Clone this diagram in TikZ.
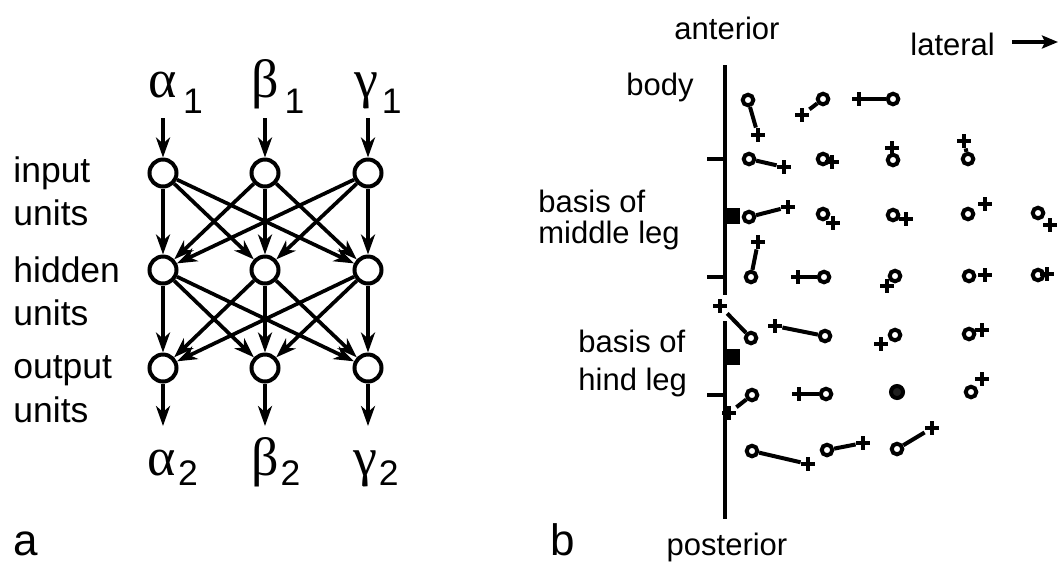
\documentclass[tikz,border=0pt]{standalone}
\usepackage{fontspec}
\setmainfont{Liberation Sans}
\newfontfamily\greekfont{Liberation Serif}
\usetikzlibrary{arrows.meta}

\newcommand{\gk}[1]{{\greekfont\fontsize{27pt}{31pt}\selectfont #1}}

\tikzset{
  neuron/.style={circle, draw, line width=2pt, minimum size=13.5pt, inner sep=0pt},
  conn/.style={line width=1.85pt, -{Stealth[length=10pt,width=7pt,inset=3pt]}},
  lbl/.style={font=\fontsize{17.75pt}{21pt}\selectfont, inner sep=0pt},
  small/.style={font=\fontsize{15.5pt}{18.5pt}\selectfont, inner sep=0pt},
  panel/.style={font=\fontsize{22pt}{26pt}\selectfont, inner sep=0pt},
  spot/.style={circle, draw, line width=2pt, minimum size=5.3pt, inner sep=0pt},
  plusmark/.style={minimum size=7pt, inner sep=0pt,
    path picture={\draw[line width=2.4pt] (path picture bounding box.north) -- (path picture bounding box.south)
      (path picture bounding box.west) -- (path picture bounding box.east);}},
  link/.style={line width=2pt},
  midline/.style={line width=1.9pt},
}

\begin{document}
\begin{tikzpicture}[x=0.5pt,y=-0.5pt]
  \useasboundingbox (0,0) rectangle (1058,564);

  % panel a: network
  \node[lbl, anchor=base] (la1) at (163,97) {\gk{α}\rlap{\hspace{3pt}\raisebox{-8pt}{1}}};
  \node[lbl, anchor=base] (lb1) at (265,97) {\gk{β}\rlap{\hspace{3pt}\raisebox{-8pt}{1}}};
  \node[lbl, anchor=base] (lc1) at (366,97) {\gk{γ}\rlap{\hspace{2pt}\raisebox{-8pt}{1}}};
  \node[lbl, anchor=base] (la2) at (162,475) {\gk{α}\rlap{\hspace{1pt}\raisebox{-5pt}{2}}};
  \node[lbl, anchor=base] (lb2) at (265,475) {\gk{β}\rlap{\hspace{1pt}\raisebox{-5pt}{2}}};
  \node[lbl, anchor=base] (lc2) at (365,475) {\gk{γ}\rlap{\hspace{1pt}\raisebox{-5pt}{2}}};

  \node[neuron] (i1) at (163,173) {};
  \node[neuron] (i2) at (265,173) {};
  \node[neuron] (i3) at (368,173) {};
  \node[neuron] (h1) at (163,270) {};
  \node[neuron] (h2) at (265,270) {};
  \node[neuron] (h3) at (368,270) {};
  \node[neuron] (o1) at (163,368) {};
  \node[neuron] (o2) at (265,368) {};
  \node[neuron] (o3) at (368,368) {};

  \node[lbl, anchor=base west] (t1) at (13,182) {input};
  \node[lbl, anchor=base west] (t2) at (13,225) {units};
  \node[lbl, anchor=base west] (t3) at (13,282) {hidden};
  \node[lbl, anchor=base west] (t4) at (13,325) {units};
  \node[lbl, anchor=base west] (t5) at (13,378) {output};
  \node[lbl, anchor=base west] (t6) at (13,422) {units};

  \coordinate (ia) at (163,118);
  \coordinate (ib) at (265,118);
  \coordinate (ic) at (368,118);
  \coordinate (oa) at (163,426);
  \coordinate (ob) at (265,426);
  \coordinate (oc) at (368,426);
  \draw[conn] (ia) -- (i1);
  \draw[conn] (ib) -- (i2);
  \draw[conn] (ic) -- (i3);
  \draw[conn] (i1) -- (h1); \draw[conn] (i1) -- (h2); \draw[conn] (i1) -- (h3);
  \draw[conn] (i2) -- (h1); \draw[conn] (i2) -- (h2); \draw[conn] (i2) -- (h3);
  \draw[conn] (i3) -- (h1); \draw[conn] (i3) -- (h2); \draw[conn] (i3) -- (h3);
  \draw[conn] (h1) -- (o1); \draw[conn] (h1) -- (o2); \draw[conn] (h1) -- (o3);
  \draw[conn] (h2) -- (o1); \draw[conn] (h2) -- (o2); \draw[conn] (h2) -- (o3);
  \draw[conn] (h3) -- (o1); \draw[conn] (h3) -- (o2); \draw[conn] (h3) -- (o3);
  \draw[conn] (o1) -- (oa);
  \draw[conn] (o2) -- (ob);
  \draw[conn] (o3) -- (oc);

  \node[panel, anchor=base west] (pa) at (13,555) {a};

  % panel b: positions
  \node[small, anchor=base] (ant) at (727,39) {anterior};
  \node[small, anchor=base] (post) at (727,555) {posterior};
  \node[small, anchor=base west] (lat) at (910,55) {lateral};
  \coordinate (latstart) at (1012,42);
  \coordinate (latend) at (1058,42);
  \draw[line width=1.6pt, -{Stealth[length=8pt,width=6.5pt,inset=1.5pt]}] (latstart) -- (latend);
  \node[small, anchor=base east] (body) at (694,95) {body};
  \node[small, anchor=base west] (mid1) at (538,212) {basis of};
  \node[small, anchor=base west] (mid2) at (538,243) {middle leg};
  \node[small, anchor=base west] (hind1) at (578,352) {basis of};
  \node[small, anchor=base west] (hind2) at (578,390) {hind leg};
  \node[panel, anchor=base west] (pb) at (550,555) {b};

  \coordinate (ax1) at (725,65);
  \coordinate (ax2) at (725,295);
  \coordinate (ax3) at (725,321);
  \coordinate (ax4) at (725,519);
  \draw[midline] (ax1) -- (ax2);
  \draw[midline] (ax3) -- (ax4);
  \coordinate (tk1) at (707,159);
  \coordinate (tk2) at (707,277);
  \coordinate (tk3) at (707,395);
  \draw[midline] (tk1) -- (tk1 -| ax1);
  \draw[midline] (tk2) -- (tk2 -| ax1);
  \draw[midline] (tk3) -- (tk3 -| ax1);
  \fill (725,208) rectangle (740,224);
  \fill (725,349) rectangle (740,365);

  \node[spot] (c11) at (748,100) {}; \node[plusmark] (p11) at (758,135) {}; \draw[link] (c11) -- (p11);
  \node[spot] (c12) at (823,99) {};  \node[plusmark] (p12) at (802,115) {}; \draw[link] (c12) -- (p12);
  \node[spot] (c13) at (893,99) {};  \node[plusmark] (p13) at (859,99) {};  \draw[link] (c13) -- (p13);

  \node[spot] (c21) at (749,159) {}; \node[plusmark] (p21) at (784,167) {}; \draw[link] (c21) -- (p21);
  \node[spot] (c22) at (823,159) {}; \node[plusmark] (p22) at (832,162) {};
  \node[spot] (c23) at (893,160) {}; \node[plusmark] (p23) at (892,148) {};
  \node[spot] (c24) at (968,159) {}; \node[plusmark] (p24) at (964,141) {}; \draw[link] (c24) -- (p24);

  \node[spot] (c31) at (749,217) {}; \node[plusmark] (p31) at (788,207) {}; \draw[link] (c31) -- (p31);
  \node[spot] (c32) at (823,214) {}; \node[plusmark] (p32) at (833,223) {};
  \node[spot] (c33) at (893,215) {}; \node[plusmark] (p33) at (906,219) {};
  \node[spot] (c34) at (968,214) {}; \node[plusmark] (p34) at (985,204) {};
  \node[spot] (c35) at (1038,213) {}; \node[plusmark] (p35) at (1050,225) {};

  \node[spot] (c41) at (751,277) {}; \node[plusmark] (p41) at (758,242) {}; \draw[link] (c41) -- (p41);
  \node[spot] (c42) at (824,277) {}; \node[plusmark] (p42) at (798,277) {}; \draw[link] (c42) -- (p42);
  \node[spot] (c43) at (895,276) {}; \node[plusmark] (p43) at (887,286) {};
  \node[spot] (c44) at (969,276) {}; \node[plusmark] (p44) at (985,275) {};
  \node[spot] (c45) at (1038,275) {}; \node[plusmark] (p45) at (1047,274) {};

  \node[spot] (c51) at (751,338) {}; \node[plusmark] (p51) at (720,306) {}; \draw[link] (c51) -- (p51);
  \node[spot] (c52) at (825,336) {}; \node[plusmark] (p52) at (775,326) {}; \draw[link] (c52) -- (p52);
  \node[spot] (c53) at (895,335) {}; \node[plusmark] (p53) at (881,344) {};
  \node[spot] (c54) at (969,334) {}; \node[plusmark] (p54) at (982,330) {};

  \node[spot] (c61) at (752,395) {}; \node[plusmark] (p61) at (729,413) {}; \draw[link] (c61) -- (p61);
  \node[spot] (c62) at (826,394) {}; \node[plusmark] (p62) at (799,394) {}; \draw[link] (c62) -- (p62);
  \node[spot, fill=black!88, minimum size=6pt] (c63) at (897,392) {};
  \node[spot] (c64) at (971,392) {}; \node[plusmark] (p64) at (982,379) {};

  \node[spot] (c71) at (752,451) {}; \node[plusmark] (p71) at (808,464) {}; \draw[link] (c71) -- (p71);
  \node[spot] (c72) at (827,450) {}; \node[plusmark] (p72) at (863,443) {}; \draw[link] (c72) -- (p72);
  \node[spot] (c73) at (897,449) {}; \node[plusmark] (p73) at (932,428) {}; \draw[link] (c73) -- (p73);
\end{tikzpicture}
\end{document}
